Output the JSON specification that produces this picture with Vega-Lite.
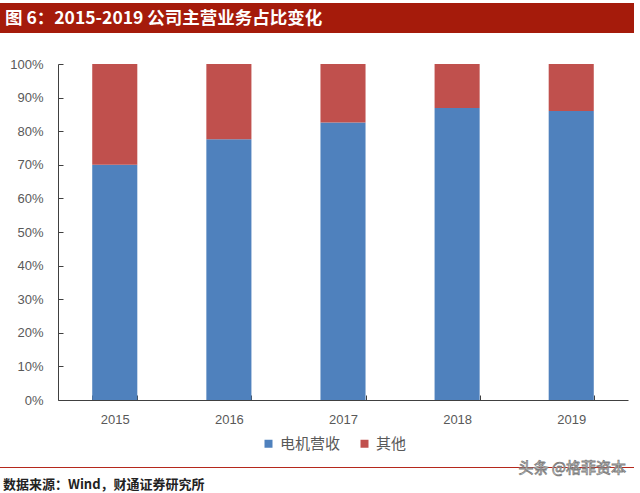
{
  "$schema": "https://vega.github.io/schema/vega-lite/v6.json",
  "background": "white",
  "padding": {"left": 0, "top": 3, "right": 0, "bottom": 0},
  "spacing": 8,
  "resolve": {"legend": {"color": "independent"}, "scale": {"color": "independent"}},
  "config": {"view": {"stroke": null}, "font": "Liberation Sans"},
  "vconcat": [
    {
      "width": 634,
      "height": 30,
      "view": {"fill": "#A51B0B", "stroke": null},
      "title": {"text": "图 6：2015-2019 公司主营业务占比变化", "anchor": "start", "frame": "group", "orient": "top", "offset": -24, "dx": 5, "color": "#ffffff", "fontSize": 17.5, "fontWeight": "bold", "font": "Noto Sans CJK SC"},
      "data": {"values": [{"t": ""}]},
      "mark": {"type": "text"},
      "encoding": {"text": {"field": "t"}}
    },
    {
      "spacing": 0,
      "resolve": {"legend": {"color": "independent"}, "scale": {"color": "independent"}},
      "hconcat": [
        {
          "width": 1,
          "height": 1,
          "data": {"values": [{"t": ""}]},
          "mark": {"type": "text"},
          "encoding": {"text": {"field": "t"}}
        },
        {
          "width": 570,
          "height": 336,
          "title": {"text": " ", "fontSize": 12, "offset": 4},
          "data": {"values": [
            {"year": "2015", "series": "电机营收", "value": 70.0},
            {"year": "2015", "series": "其他", "value": 30.0},
            {"year": "2016", "series": "电机营收", "value": 77.6},
            {"year": "2016", "series": "其他", "value": 22.4},
            {"year": "2017", "series": "电机营收", "value": 82.6},
            {"year": "2017", "series": "其他", "value": 17.4},
            {"year": "2018", "series": "电机营收", "value": 86.9},
            {"year": "2018", "series": "其他", "value": 13.1},
            {"year": "2019", "series": "电机营收", "value": 86.0},
            {"year": "2019", "series": "其他", "value": 14.0}
          ]},
          "mark": {"type": "bar"},
          "encoding": {
            "x": {"field": "year", "type": "ordinal", "scale": {"paddingInner": 0.605, "paddingOuter": 0.3},
              "axis": {"title": null, "labelAngle": 0, "ticks": true, "tickBand": "extent", "tickSize": -5, "tickColor": "#404040", "labelPadding": 18, "labelFontSize": 13, "labelColor": "#595959", "domainColor": "#404040", "labelFont": "Liberation Sans"}},
            "y": {"field": "value", "type": "quantitative", "stack": "normalize", "scale": {"domain": [0, 1]},
              "axis": {"title": null, "format": ".0%", "values": [0, 0.1, 0.2, 0.3, 0.4, 0.5, 0.6, 0.7, 0.8, 0.9, 1], "grid": false, "tickSize": -5, "labelPadding": 20, "minExtent": 57, "domainColor": "#404040", "tickColor": "#404040", "labelColor": "#595959", "labelFontSize": 13, "labelFont": "Liberation Sans"}},
            "color": {"field": "series", "type": "nominal", "scale": {"domain": ["电机营收", "其他"], "range": ["#4F81BD", "#C0504D"]},
              "legend": {"title": null, "orient": "none", "legendX": 203, "legendY": 372, "direction": "horizontal", "symbolType": "square", "symbolSize": 64, "labelFontSize": 15, "labelFont": "Noto Sans CJK SC", "labelColor": "#595959", "columnPadding": 16, "labelOffset": 4, "padding": 0, "symbolStrokeWidth": 0}},
            "order": {"field": "series", "sort": "descending"}
          }
        }
      ]
    },
    {
      "width": 634,
      "height": 1,
      "view": {"fill": "#B5281C", "stroke": null},
      "title": {"text": "数据来源：Wind，财通证券研究所", "orient": "bottom", "anchor": "start", "frame": "group", "offset": 3, "dx": 3, "fontSize": 13, "fontWeight": "bold", "color": "#222222", "font": "Noto Sans CJK SC"},
      "data": {"values": [{"w": "头条 @格菲资本"}]},
      "mark": {"type": "text", "align": "right", "dx": -8, "fontSize": 15, "font": "Noto Sans CJK SC", "fill": "#ffffff", "stroke": "#808080", "strokeWidth": 0.8},
      "encoding": {
        "text": {"field": "w"},
        "x": {"datum": 1, "type": "quantitative", "scale": {"domain": [0, 1]}, "axis": null}
      }
    }
  ]
}
